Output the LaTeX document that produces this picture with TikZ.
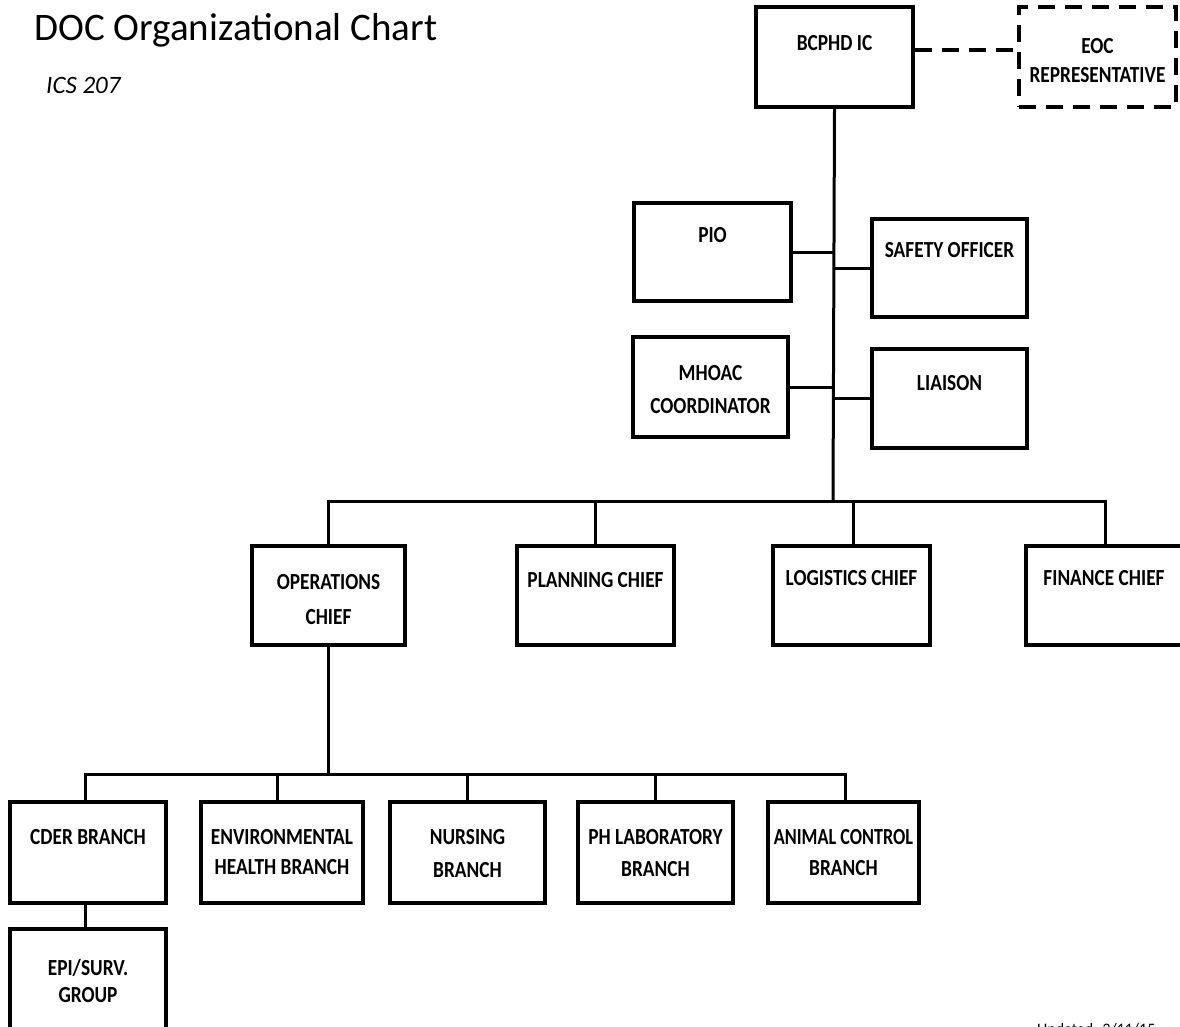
\documentclass[tikz,border=0pt]{standalone}
\usepackage{fontspec}
\setmainfont{Carlito}
\newfontfamily\labelfont{Carlito}[FakeStretch=0.84]
\begin{document}
\begin{tikzpicture}[x=1pt,y=-1pt,
  orgbox/.style={draw, line width=3.6pt, rectangle, inner sep=0pt},
  dashbox/.style={orgbox, dash pattern=on 17pt off 10pt, line width=4pt},
  lbl/.style={font=\labelfont\bfseries\fontsize{23}{23}\selectfont, anchor=base, inner sep=0pt},
  link/.style={line width=3pt},
  dashlink/.style={line width=4pt, dash pattern=on 17pt off 10pt}]
\useasboundingbox (0,0) rectangle (1180,1026);
\clip (0,0) rectangle (1180,1026);

% titles
\node[anchor=base west, inner sep=0pt, font=\fontsize{39}{39}\selectfont] (title) at (34,40) {DOC Organizational Chart};
\node[anchor=base west, inner sep=0pt, font=\itshape\fontsize{25}{25}\selectfont] (sub) at (46,93) {ICS 207};
\node[anchor=base west, inner sep=0pt, font=\fontsize{16}{16}\selectfont] (upd) at (1037,1034) {Updated: 3/11/15};

% command staff
\node[orgbox, minimum width=157, minimum height=100] (ic) at (834.5,57) {};
\node[dashbox, minimum width=157, minimum height=100] (eoc) at (1097.5,57) {};
\node[orgbox, minimum width=157, minimum height=98] (pio) at (712.5,252) {};
\node[orgbox, minimum width=155, minimum height=98] (safety) at (949.5,268) {};
\node[orgbox, minimum width=155, minimum height=100] (mhoac) at (710.5,387) {};
\node[orgbox, minimum width=155, minimum height=99] (liaison) at (949.5,398.5) {};

% general staff
\node[orgbox, minimum width=153, minimum height=99] (ops) at (328.5,595.5) {};
\node[orgbox, minimum width=157, minimum height=99] (plan) at (595.5,595.5) {};
\node[orgbox, minimum width=157, minimum height=99] (logi) at (851.5,595.5) {};
\node[orgbox, minimum width=158, minimum height=99] (fin) at (1105,595.5) {};

% operations branches
\node[orgbox, minimum width=156, minimum height=101] (cder) at (88,852.5) {};
\node[orgbox, minimum width=162, minimum height=101] (env) at (282,852.5) {};
\node[orgbox, minimum width=155, minimum height=101] (nurs) at (467.5,852.5) {};
\node[orgbox, minimum width=155, minimum height=101] (phlab) at (655.5,852.5) {};
\node[orgbox, minimum width=151, minimum height=101] (animal) at (843.5,852.5) {};
\node[orgbox, minimum width=156, minimum height=104] (epi) at (88,981) {};

% box labels
\node[lbl] (ic-t) at (834.5,50) {BCPHD IC};
\node[lbl] (eoc-t1) at (1097.5,53) {EOC};
\node[lbl] (eoc-t2) at (1097.5,82) {REPRESENTATIVE};
\node[lbl] (pio-t) at (712.5,242) {PIO};
\node[lbl] (safety-t) at (949.5,257) {SAFETY OFFICER};
\node[lbl] (mhoac-t1) at (710.5,380) {MHOAC};
\node[lbl] (mhoac-t2) at (710.5,413) {COORDINATOR};
\node[lbl] (liaison-t) at (949.5,390) {LIAISON};
\node[lbl] (ops-t1) at (328.5,589) {OPERATIONS};
\node[lbl] (ops-t2) at (328.5,624) {CHIEF};
\node[lbl] (plan-t) at (595.5,587) {PLANNING CHIEF};
\node[lbl] (logi-t) at (851.5,585) {LOGISTICS CHIEF};
\node[lbl] (fin-t) at (1104,585) {FINANCE CHIEF};
\node[lbl] (cder-t) at (88,844) {CDER BRANCH};
\node[lbl] (env-t1) at (282,844) {ENVIRONMENTAL};
\node[lbl] (env-t2) at (282,874) {HEALTH BRANCH};
\node[lbl] (nurs-t1) at (467.5,844) {NURSING};
\node[lbl] (nurs-t2) at (467.5,877) {BRANCH};
\node[lbl] (phlab-t1) at (655.5,844) {PH LABORATORY};
\node[lbl] (phlab-t2) at (655.5,876) {BRANCH};
\node[lbl, xscale=0.94] (animal-t1) at (843.5,844) {ANIMAL CONTROL};
\node[lbl] (animal-t2) at (843.5,875) {BRANCH};
\node[lbl] (epi-t1) at (88,975) {EPI/SURV.};
\node[lbl] (epi-t2) at (88,1002) {GROUP};

% connectors
\coordinate (bus) at (833,501);
\coordinate (opsbus) at (328.5,774);
\draw[dashlink] ([yshift=7pt]ic.east) -- ([yshift=7pt]eoc.west);
\draw[link] (ic.south) -- (bus);
\draw[link] (pio.east) -- (pio.east -| bus);
\draw[link] (safety.west) -- (safety.west -| bus);
\draw[link] (mhoac.east) -- (mhoac.east -| bus);
\draw[link] (liaison.west) -- (liaison.west -| bus);
\draw[link] (ops.north) |- (bus) -| (fin.north);
\draw[link] (plan.north) -- (plan.north |- bus);
\draw[link] ([xshift=2pt]logi.north) -- ([xshift=2pt]logi.north |- bus);
\draw[link] (ops.south) -- (opsbus);
\draw[link] ([xshift=-3pt]cder.north) |- (opsbus) -| ([xshift=2pt]animal.north);
\draw[link] ([xshift=-5pt]env.north) -- ([xshift=-5pt]env.north |- opsbus);
\draw[link] (nurs.north) -- (nurs.north |- opsbus);
\draw[link] (phlab.north) -- (phlab.north |- opsbus);
\draw[link] ([xshift=-3pt]cder.south) -- ([xshift=-3pt]epi.north);
\end{tikzpicture}
\end{document}
